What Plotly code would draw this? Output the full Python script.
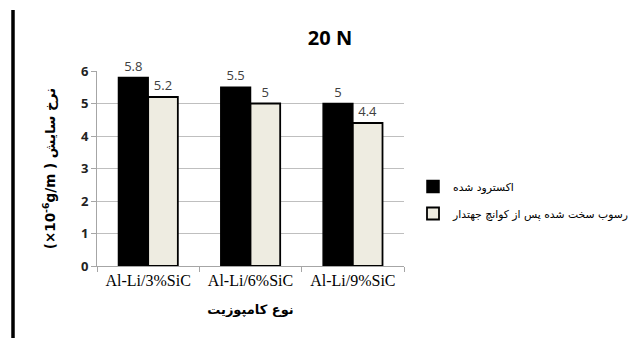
import plotly.graph_objects as go

categories = ["Al-Li/3%SiC", "Al-Li/6%SiC", "Al-Li/9%SiC"]
extruded = [5.8, 5.5, 5.0]
aged = [5.2, 5.0, 4.4]
series_names = ["اکسترود شده", "رسوب سخت شده پس از کوانچ جهتدار"]
y_ticks = [0, 1, 2, 3, 4, 5, 6]

fig = go.Figure()
fig.add_trace(go.Bar(
    x=categories, y=extruded, name=series_names[0], legendgroup="a",
    marker=dict(color="#000000", line=dict(color="#000000", width=1.5)),
    text=[f"{v:g}" for v in extruded], textposition="outside",
    textfont=dict(family="Open Sans, sans-serif", size=13, color="#404040"),
    cliponaxis=False,
))
fig.add_trace(go.Bar(
    x=categories, y=aged, name=series_names[1], legendgroup="b",
    marker=dict(color="#EEECE1", line=dict(color="#000000", width=1.8)),
    text=[f"{v:g}" for v in aged], textposition="outside",
    textfont=dict(family="Open Sans, sans-serif", size=13, color="#404040"),
    cliponaxis=False,
))

fig.update_layout(
    width=637, height=338,
    margin=dict(l=97, r=233, t=71, b=72),
    paper_bgcolor="white", plot_bgcolor="white",
    barmode="group", bargap=0.42, bargroupgap=0,
    showlegend=True,
    legend=dict(xref="container", yref="container", x=413/637, xanchor="left",
                y=1-200/338, yanchor="middle",
                font=dict(family="DejaVu Sans", size=10.8, color="#000000"),
                traceorder="grouped", tracegroupgap=8,
                bgcolor="rgba(0,0,0,0)"),
    title=dict(text="<b>20 N</b>", x=330/637, xref="container", xanchor="center",
               y=1-38/338, yref="container", yanchor="middle",
               font=dict(family="Open Sans, Arial, sans-serif", size=20, color="#000000")),
)
fig.update_xaxes(
    showline=True, linecolor="#A6A6A6", linewidth=1,
    ticks="outside", tickson="boundaries", ticklen=5, tickcolor="#A6A6A6",
    tickfont=dict(family="Liberation Serif, Times New Roman, serif", size=16, color="#000000"),
    title=dict(text="<b>نوع کامپوزیت</b>", standoff=16,
               font=dict(family="DejaVu Sans", size=13, color="#000000")),
    automargin=False,
)
fig.update_yaxes(
    range=[0, 6], tickvals=y_ticks, ticktext=[f"<b>{t}</b>" for t in y_ticks],
    showgrid=True, gridcolor="#BFBFBF", gridwidth=1,
    showline=True, linecolor="#A6A6A6", linewidth=1,
    ticks="outside", ticklen=5, tickcolor="#A6A6A6",
    tickfont=dict(family="Open Sans, sans-serif", size=13, color="#222222"),
    title=dict(text="<b>(×10<sup>-6</sup>g/m ) نرخ سایش</b>", standoff=22,
               font=dict(family="DejaVu Sans", size=13.5, color="#000000")),
    automargin=False, zeroline=False,
)
fig.add_shape(type="line", xref="paper", yref="paper",
              x0=(13-97)/307, x1=(13-97)/307, y0=(266-10)/195, y1=(266-338)/195,
              line=dict(color="#000000", width=3.5))

fig.write_html("out.html")
